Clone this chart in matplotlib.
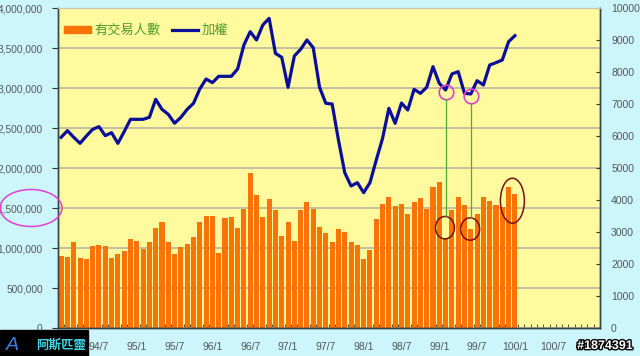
import matplotlib
matplotlib.use('Agg')
import matplotlib.pyplot as plt
from matplotlib.patches import Ellipse, Rectangle
import matplotlib.patheffects as pe

plt.rcParams['font.family'] = ['Liberation Sans', 'Noto Sans CJK TC', 'DejaVu Sans']

# monthly data, 94/1 .. 100/1
people = [900000, 883000, 1071000, 879000, 858000, 1025000, 1037000, 1025000, 879000, 921000,
          967000, 1112000, 1092000, 983000, 1075000, 1250000, 1325000, 1079000, 925000, 1012000,
          1046000, 1142000, 1329000, 1400000, 1400000, 933000, 1375000, 1383000, 1250000, 1487000,
          1937000, 1662000, 1383000, 1608000, 1479000, 1150000, 1329000, 1092000, 1475000, 1575000,
          1487000, 1267000, 1187000, 1071000, 1242000, 1196000, 1079000, 1037000, 858000, 979000,
          1358000, 1554000, 1633000, 1529000, 1550000, 1425000, 1571000, 1625000, 1487000, 1758000,
          1821000, 1121000, 1475000, 1633000, 1537000, 1237000, 1421000, 1633000, 1587000, 1537000,
          1517000, 1767000, 1675000]
index = [5959, 6167, 5959, 5771, 6000, 6208, 6292, 6010, 6104, 5771,
         6135, 6521, 6521, 6521, 6583, 7146, 6833, 6677, 6400, 6583,
         6833, 7021, 7469, 7781, 7667, 7865, 7865, 7865, 8094, 8844,
         9260, 9000, 9469, 9677, 8583, 8458, 7521, 8500, 8708, 9000,
         8760, 7521, 7021, 7000, 5875, 4854, 4437, 4542, 4229, 4542,
         5250, 5927, 6865, 6396, 7030, 6813, 7458, 7333, 7521, 8167,
         7646, 7438, 7938, 8010, 7333, 7313, 7729, 7594, 8219, 8292,
         8375, 8948, 9135]
tick_labels = ['94/1', '94/7', '95/1', '95/7', '96/1', '96/7', '97/1', '97/7',
               '98/1', '98/7', '99/1', '99/7', '100/1', '100/7', '101/1']
n_cat = 86          # category slots on the axis (94/1 .. 101/2)
marked = [61, 65]   # months highlighted with circles
ring_y = [1254000, 1237000]

x = list(range(len(people)))

fig = plt.figure(figsize=(6.4, 3.56), dpi=100)
fig.patch.set_facecolor('#CCF6FC')
ax = fig.add_axes([58/640, 28/356, 542/640, 320/356])
ax.set_facecolor('#FFFA9E')

ax.bar(x, people, width=0.8, color='#F97306', zorder=2)
ax.set_xlim(-0.5, n_cat - 0.5)
ax.set_ylim(0, 4000000)
ax.set_yticks(range(0, 4000001, 500000))
ax.set_yticklabels(['0' if v == 0 else f'{v:,}' for v in range(0, 4000001, 500000)])
ax.yaxis.grid(True, color='#B8B6A0', linewidth=1.2, zorder=0)
ax.set_axisbelow(True)
ax.set_xticks(range(0, 6 * len(tick_labels), 6))
ax.set_xticklabels(tick_labels)
ax.set_xticks([i - 0.5 for i in range(n_cat + 1)], minor=True)
ax.tick_params(axis='x', which='major', length=0, pad=10, labelsize=7.5, labelcolor='#555555')
ax.tick_params(axis='x', which='minor', length=3, direction='in', color='#333333')
ax.tick_params(axis='y', length=4, color='#333333', pad=7, labelsize=7.3, labelcolor='#555555')

ax2 = ax.twinx()
ax2.plot(x, index, color='#0A0E98', linewidth=2.3, zorder=3)
ax2.set_ylim(0, 10000)
ax2.set_yticks(range(0, 10001, 1000))
ax2.tick_params(axis='y', direction='in', length=3, color='#333333', pad=8,
                labelsize=7.5, labelcolor='#555555')

for a in (ax, ax2):
    for s in ('left', 'right', 'bottom'):
        a.spines[s].set_color('#334444')
        a.spines[s].set_linewidth(1)
    a.spines['top'].set_color('#C8C8B0')

# legend
h1 = plt.Rectangle((0, 0), 1, 1, color='#F97306')
h2 = plt.Line2D([], [], color='#0A0E98', linewidth=2.3)
leg = ax2.legend([h1, h2], ['有交易人數', '加權'], loc='upper left', ncol=2, frameon=False,
                 bbox_to_anchor=(-0.01, 0.985), prop={'size': 9.5}, handlelength=2.0,
                 handleheight=0.5, columnspacing=0.8, handletextpad=0.3)
for t in leg.get_texts():
    t.set_color('#4E9A2E')

# annotations
ratio = 10000 / 4000000
for i, ry in zip(marked, ring_y):
    ax2.plot(i, index[i] - 70, 'o', markersize=10.5, markerfacecolor='none',
             markeredgecolor='#E040D0', markeredgewidth=1.2, zorder=4)
    ax2.plot([i, i], [index[i] - 290, (ry + 140000) * ratio], color='#55A830',
             linewidth=0.9, zorder=4)
    ax.add_patch(Ellipse((i - 0.1, ry), 3.0, 280000, fill=False,
                         edgecolor='#7A1010', linewidth=1.1, zorder=4))
ax.add_patch(Ellipse((71.6, 1591000), 3.8, 562000, fill=False,
                     edgecolor='#7A1010', linewidth=1.1, zorder=4))

fig.patches.append(Ellipse((31/640, 1 - 208/356), 62/640, 37/356, fill=False,
                           edgecolor='#E040D0', linewidth=1.1, transform=fig.transFigure))

# logo and watermark
fig.patches.append(Rectangle((0, 0), 88/640, 26/356, color='black', transform=fig.transFigure))
fig.text(12/640, 11/356, 'A', color='#3A7FE0', fontsize=14, style='italic',
         ha='center', va='center')
fig.text(61/640, 11/356, '阿斯匹靈', color='#40D8E8', fontsize=9, fontweight='bold',
         ha='center', va='center', family=['Noto Sans CJK TC', 'DejaVu Sans'])
fig.text(605/640, 10/356, '#1874391', color='white', fontsize=9, fontweight='bold',
         ha='center', va='center',
         path_effects=[pe.withStroke(linewidth=2, foreground='black')])

fig.savefig('out.png', dpi=100, facecolor=fig.get_facecolor())
